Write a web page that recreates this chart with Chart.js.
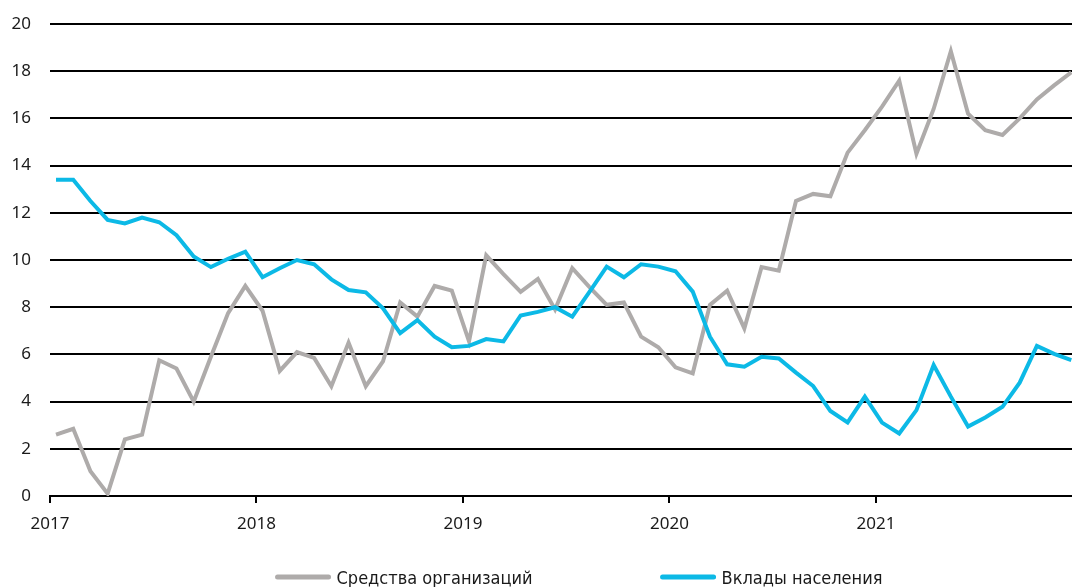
<!DOCTYPE html>
<html>
<head>
<meta charset="utf-8">
<script src="https://cdn.jsdelivr.net/npm/chart.js@4.4.1/dist/chart.umd.min.js"></script>
<style>
  html, body { margin: 0; padding: 0; background: #fff; overflow: hidden; }
</style>
</head>
<body>
<canvas id="chart" width="1072" height="587"></canvas>
<script>
// monthly, Jan 2017 .. Dec 2021
const years = ['2017', '2018', '2019', '2020', '2021']

const orgFunds = [
  2.6, 2.85, 1.05, 0.1, 2.4, 2.6, 5.75, 5.4, 4.0, 5.9, 7.75, 8.9,
  7.85, 5.3, 6.1, 5.85, 4.65, 6.5, 4.65, 5.7, 8.2, 7.6, 8.9, 8.7,
  6.55, 10.2, 9.4, 8.65, 9.2, 7.9, 9.65, 8.85, 8.1, 8.2, 6.75, 6.3,
  5.45, 5.2, 8.1, 8.7, 7.1, 9.7, 9.55, 12.5, 12.8, 12.7, 14.55, 15.5,
  16.5, 17.6, 14.5, 16.4, 18.85, 16.2, 15.5, 15.3, 16.0, 16.8, 17.4, 17.95
]

const householdDeposits = [
  13.4, 13.4, 12.5, 11.7, 11.55, 11.8, 11.6, 11.05, 10.15, 9.7, 10.05, 10.35,
  9.27, 9.65, 10.0, 9.82, 9.18, 8.73, 8.63, 7.95, 6.9, 7.45, 6.75, 6.3,
  6.36, 6.65, 6.55, 7.65, 7.8, 8.0, 7.6, 8.65, 9.72, 9.27, 9.82, 9.72,
  9.52, 8.66, 6.75, 5.58, 5.48, 5.9, 5.83, 5.23, 4.66, 3.6, 3.12, 4.21,
  3.11, 2.65, 3.64, 5.55, 4.21, 2.94, 3.33, 3.78, 4.8, 6.36, 6.02, 5.76
]

const seriesNames = ['Средства организаций', 'Вклады населения']

const GREY = '#aeabaa'
const BLUE = '#0cb9e6'
const tickFont = { family: '"Noto Sans", "Open Sans", sans-serif', size: 17 }

// year ticks sit a bit before the January point
const yearOffset = -0.35

const toPoints = arr => arr.map((v, i) => ({ x: i, y: v }))

const bottomLegend = {
  id: 'bottomLegend',
  afterDraw(chart) {
    const ctx = chart.ctx
    const sets = chart.data.datasets
    const boxW = 55, gap = 6, spacing = 128
    ctx.save()
    ctx.font = '18px "DejaVu Sans Condensed", "Liberation Sans Narrow", sans-serif'
    const widths = sets.map(d => boxW + gap + ctx.measureText(d.label).width)
    const total = widths.reduce((a, b) => a + b, 0) + spacing * (sets.length - 1)
    let x = 579 - total / 2
    const y = 577
    sets.forEach((d, i) => {
      ctx.strokeStyle = d.borderColor
      ctx.lineWidth = 5
      ctx.lineCap = 'round'
      ctx.beginPath()
      ctx.moveTo(x + 2, y)
      ctx.lineTo(x + boxW - 2, y)
      ctx.stroke()
      ctx.fillStyle = '#1a1a1a'
      ctx.textBaseline = 'middle'
      ctx.fillText(d.label, x + boxW + gap, y + 2)
      x += widths[i] + spacing
    })
    ctx.restore()
  }
}

const ctx = document.getElementById('chart').getContext('2d')
new Chart(ctx, {
  type: 'line',
  data: {
    datasets: [{
      label: seriesNames[0],
      data: toPoints(orgFunds),
      borderColor: GREY,
      backgroundColor: GREY,
      borderWidth: 4,
      pointRadius: 0,
      tension: 0,
      order: 2
    }, {
      label: seriesNames[1],
      data: toPoints(householdDeposits),
      borderColor: BLUE,
      backgroundColor: BLUE,
      borderWidth: 4,
      pointRadius: 0,
      tension: 0,
      order: 1
    }]
  },
  options: {
    responsive: false,
    animation: false,
    devicePixelRatio: 1,
    layout: { padding: { top: 24, right: 0, left: 0, bottom: 51 } },
    plugins: {
      legend: { display: false },
      tooltip: { enabled: false }
    },
    scales: {
      x: {
        type: 'linear',
        min: yearOffset,
        max: 59.04,
        afterBuildTicks: scale => {
          scale.ticks = years.map((y, i) => ({ value: i * 12 + yearOffset }))
        },
        afterFit: scale => { scale.height = 40 },
        ticks: {
          font: tickFont,
          color: '#1a1a1a',
          padding: 11,
          maxRotation: 0,
          callback: (v, i) => years[i]
        },
        grid: {
          drawOnChartArea: false,
          color: '#000',
          lineWidth: 2,
          tickLength: 7
        },
        border: { color: '#000', width: 2 }
      },
      y: {
        min: 0,
        max: 20,
        afterFit: scale => { scale.width = 50 },
        ticks: {
          stepSize: 2,
          font: tickFont,
          color: '#1a1a1a',
          padding: 4
        },
        grid: {
          color: '#000',
          lineWidth: 2,
          tickLength: 15,
          tickColor: 'rgba(0,0,0,0)'
        },
        border: { display: false }
      }
    }
  },
  plugins: [bottomLegend]
})
</script>
</body>
</html>
